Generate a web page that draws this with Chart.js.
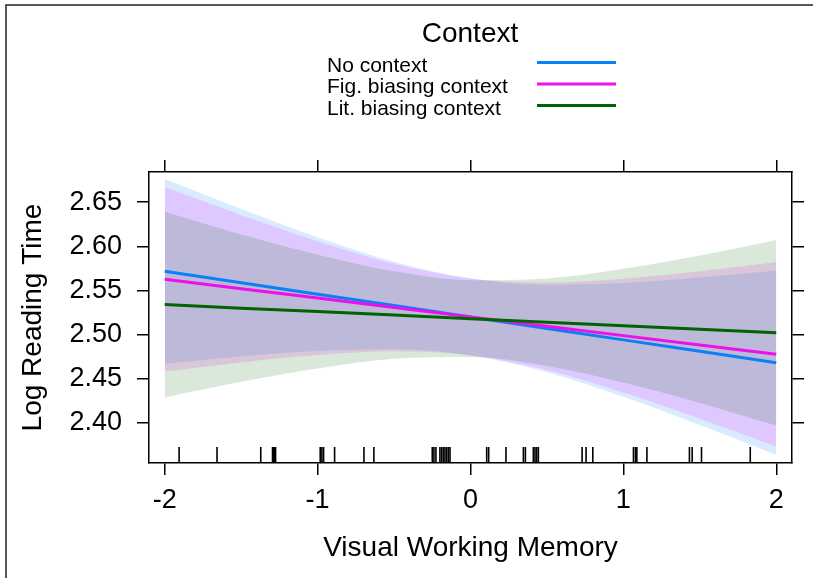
<!DOCTYPE html>
<html>
<head>
<meta charset="utf-8">
<script src="https://cdn.jsdelivr.net/npm/chart.js@4"></script>
<style>
  body { margin: 0; background: #fff; }
  #wrap { width: 813px; height: 578px; position: relative; }
</style>
</head>
<body>
<div id="wrap"><canvas id="chartEff"></canvas></div>
<script>
// values
const xValues = [-2, -1.5, -1, -0.5, 0, 0.5, 1, 1.5, 2];

const noCtxFit   = [2.5716, 2.5587, 2.5458, 2.5329, 2.5200, 2.5070, 2.4941, 2.4812, 2.4683];
const noCtxUpper = [2.6760, 2.6421, 2.6102, 2.5824, 2.5635, 2.5565, 2.5585, 2.5646, 2.5727];
const noCtxLower = [2.4672, 2.4753, 2.4814, 2.4834, 2.4765, 2.4575, 2.4297, 2.3978, 2.3639];

const figFit   = [2.5626, 2.5520, 2.5414, 2.5307, 2.5201, 2.5095, 2.4989, 2.4883, 2.4777];
const figUpper = [2.6670, 2.6354, 2.6058, 2.5802, 2.5636, 2.5590, 2.5633, 2.5717, 2.5821];
const figLower = [2.4582, 2.4686, 2.4770, 2.4812, 2.4766, 2.4600, 2.4345, 2.4049, 2.3733];

const litFit   = [2.5340, 2.5300, 2.5261, 2.5221, 2.5181, 2.5141, 2.5102, 2.5062, 2.5022];
const litUpper = [2.6390, 2.6134, 2.5905, 2.5716, 2.5616, 2.5636, 2.5746, 2.5896, 2.6072];
const litLower = [2.4290, 2.4466, 2.4617, 2.4726, 2.4746, 2.4646, 2.4458, 2.4228, 2.3972];

const rugValues = [-1.906, -1.658, -1.372, -1.295, -1.288, -1.282, -1.275, -0.983, -0.972, -0.961,
  -0.889, -0.697, -0.632, -0.250, -0.239, -0.226, -0.200, -0.189, -0.178, -0.167, -0.156, -0.145,
  -0.134, 0.106, 0.119, 0.232, 0.346, 0.359, 0.411, 0.422, 0.433, 0.444, 0.730, 0.756, 0.800,
  1.066, 1.079, 1.088, 1.154, 1.432, 1.450, 1.511, 1.830];

const xTickValues = [-2, -1, 0, 1, 2];
const yTickValues = [2.40, 2.45, 2.50, 2.55, 2.60, 2.65];

const legendTitle = 'Context';
const legendLabels = ['No context', 'Fig. biasing context', 'Lit. biasing context'];
const lineColors = ['#0a80f5', '#ee10e8', '#006400'];
const bandColors = ['rgba(0,128,255,0.15)', 'rgba(255,0,255,0.15)', 'rgba(0,100,0,0.15)'];

const FONT = '"Liberation Sans", Arial, sans-serif';

function pts(arr) {
  return xValues.map((x, i) => ({ x: x, y: arr[i] }));
}

function fitLine(label, arr, color) {
  return { label: label, data: pts(arr), borderColor: color, borderWidth: 3, pointRadius: 0, fill: false, tension: 0 };
}

function bandEdge(arr, fillColor, fillNext) {
  return {
    label: '_band', data: pts(arr), borderWidth: 0, borderColor: 'rgba(0,0,0,0)', pointRadius: 0,
    backgroundColor: fillColor, fill: fillNext ? '+1' : false, cubicInterpolationMode: 'monotone'
  };
}

// frame + legend + rug drawn on the canvas
const extrasPlugin = {
  id: 'extras',
  beforeDraw(chart) {
    const ctx = chart.ctx;
    ctx.save();
    ctx.fillStyle = '#fff';
    ctx.fillRect(0, 0, chart.width, chart.height);
    ctx.strokeStyle = '#222';
    ctx.lineWidth = 1.5;
    ctx.beginPath();
    ctx.moveTo(6, chart.height);
    ctx.lineTo(6, 5);
    ctx.lineTo(chart.width, 5);
    ctx.stroke();
    ctx.restore();
  },
  afterDatasetsDraw(chart) {
    const ctx = chart.ctx;
    const xs = chart.scales.x;
    const bottom = chart.chartArea.bottom;
    ctx.save();
    ctx.strokeStyle = '#000';
    ctx.lineWidth = 1.6;
    rugValues.forEach(v => {
      const px = xs.getPixelForValue(v);
      ctx.beginPath();
      ctx.moveTo(px, bottom);
      ctx.lineTo(px, bottom - 16);
      ctx.stroke();
    });
    ctx.restore();
  },
  afterDraw(chart) {
    const ctx = chart.ctx;
    ctx.save();
    ctx.fillStyle = '#000';
    ctx.textBaseline = 'alphabetic';
    ctx.textAlign = 'center';
    ctx.font = '28px ' + FONT;
    ctx.fillText(legendTitle, 470, 42);
    ctx.textAlign = 'left';
    ctx.font = '21px ' + FONT;
    legendLabels.forEach((lab, i) => {
      const base = 71.5 + i * 21.5;
      ctx.fillText(lab, 327, base);
      ctx.strokeStyle = lineColors[i];
      ctx.lineWidth = 3;
      ctx.beginPath();
      ctx.moveTo(537, base - 9);
      ctx.lineTo(616, base - 9);
      ctx.stroke();
    });
    ctx.restore();
  }
};

function setTicks(values) {
  return function (scale) { scale.ticks = values.map(v => ({ value: v })); };
}

const gridOpts = { drawOnChartArea: false, drawTicks: true, tickLength: 12, color: '#000', lineWidth: 1.5 };
const borderOpts = { display: true, color: '#000', width: 1.5 };

const chartEff = new Chart(document.getElementById('chartEff'), {
  type: 'line',
  data: {
    datasets: [
      fitLine(legendLabels[2], litFit, lineColors[2]),
      fitLine(legendLabels[1], figFit, lineColors[1]),
      fitLine(legendLabels[0], noCtxFit, lineColors[0]),
      bandEdge(litUpper, bandColors[2], true),
      bandEdge(litLower, bandColors[2], false),
      bandEdge(figUpper, bandColors[1], true),
      bandEdge(figLower, bandColors[1], false),
      bandEdge(noCtxUpper, bandColors[0], true),
      bandEdge(noCtxLower, bandColors[0], false)
    ]
  },
  options: {
    responsive: true,
    maintainAspectRatio: false,
    animation: false,
    layout: { padding: 0 },
    plugins: { legend: { display: false }, tooltip: { enabled: false } },
    scales: {
      x: {
        type: 'linear', position: 'bottom', min: -2.103, max: 2.103,
        afterBuildTicks: setTicks(xTickValues),
        afterFit(scale) { scale.height = 115; },
        grid: gridOpts, border: borderOpts,
        ticks: { color: '#000', padding: 9, font: { family: FONT, size: 27 }, callback: v => String(v), maxRotation: 0 },
        title: { display: true, text: 'Visual Working Memory', color: '#000', font: { family: FONT, size: 28 }, padding: { top: 0, bottom: 13 } }
      },
      x2: {
        type: 'linear', position: 'top', min: -2.103, max: 2.103,
        afterBuildTicks: setTicks(xTickValues),
        afterFit(scale) { scale.height = 172; },
        grid: gridOpts, border: borderOpts,
        ticks: { display: false }
      },
      y: {
        type: 'linear', position: 'left', min: 2.3548, max: 2.684,
        afterBuildTicks: setTicks(yTickValues),
        afterFit(scale) { scale.width = 149; },
        grid: gridOpts, border: borderOpts,
        ticks: { color: '#000', padding: 15, font: { family: FONT, size: 27 }, callback: v => v.toFixed(2) },
        title: { display: true, text: 'Log Reading Time', color: '#000', font: { family: FONT, size: 28 }, padding: { top: 16, bottom: 0 } }
      },
      y2: {
        type: 'linear', position: 'right', min: 2.3548, max: 2.684,
        afterBuildTicks: setTicks(yTickValues),
        afterFit(scale) { scale.width = 21; },
        grid: gridOpts, border: borderOpts,
        ticks: { display: false }
      }
    }
  },
  plugins: [extrasPlugin]
});
</script>
</body>
</html>
